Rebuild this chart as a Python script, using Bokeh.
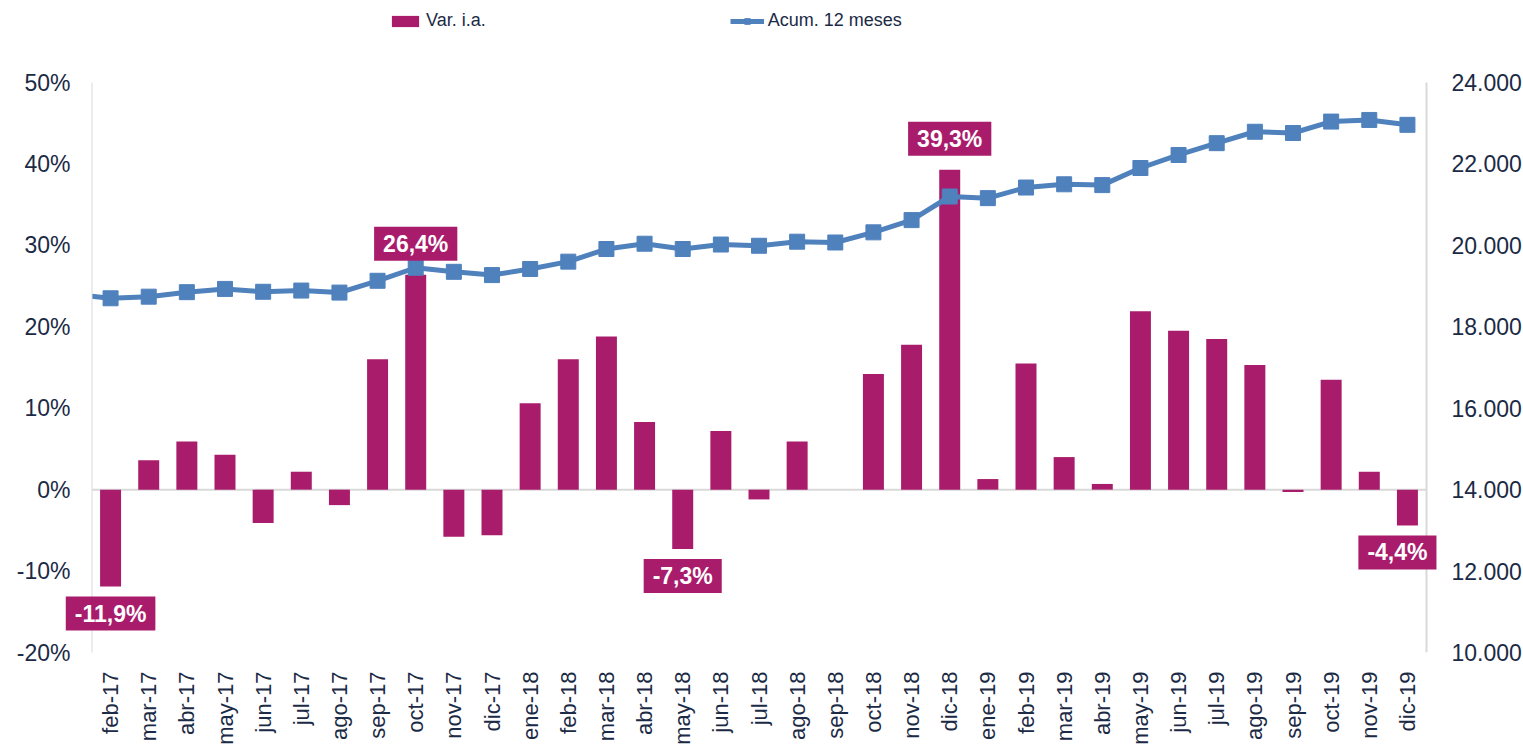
import numpy as np
from bokeh.plotting import figure
from bokeh.models import (Range1d, LinearAxis, FixedTicker, Label, BoxAnnotation,
                          Legend, LegendItem)
from bokeh.embed import file_html
from bokeh.resources import INLINE

# ---------------- data ----------------
months = ["feb-17", "mar-17", "abr-17", "may-17", "jun-17", "jul-17", "ago-17",
          "sep-17", "oct-17", "nov-17", "dic-17", "ene-18", "feb-18", "mar-18",
          "abr-18", "may-18", "jun-18", "jul-18", "ago-18", "sep-18", "oct-18",
          "nov-18", "dic-18", "ene-19", "feb-19", "mar-19", "abr-19", "may-19",
          "jun-19", "jul-19", "ago-19", "sep-19", "oct-19", "nov-19", "dic-19"]

var_ia = [-11.9, 3.6, 5.9, 4.3, -4.1, 2.2, -1.9, 16.0, 26.4, -5.8, -5.6,
          10.6, 16.0, 18.8, 8.3, -7.3, 7.2, -1.2, 5.9, 0.0, 14.2, 17.8,
          39.3, 1.3, 15.5, 4.0, 0.7, 21.9, 19.5, 18.5, 15.3, -0.3, 13.5,
          2.2, -4.4]

acum_prev_month = "ene-17"
acum_prev_value = 18800
acum_12m = [18700, 18740, 18850, 18930, 18860, 18890, 18840, 19130, 19450,
            19350, 19270, 19420, 19600, 19910, 20040, 19910, 20020, 19990,
            20090, 20070, 20320, 20620, 21200, 21160, 21420, 21500, 21480,
            21900, 22220, 22510, 22790, 22760, 23040, 23080, 22960]

left_ticks = [-20, -10, 0, 10, 20, 30, 40, 50]
right_ticks = [10000, 12000, 14000, 16000, 18000, 20000, 22000, 24000]
labeled_months = ["feb-17", "oct-17", "may-18", "dic-18", "dic-19"]

series_names = ["Var. i.a.", "Acum. 12 meses"]

# ---------------- style ----------------
BAR = "#A91C6C"
BLUE = "#4F81BD"
TXT = "#1B2A45"
GRID = "#D9D9D9"
FONT = "Liberation Sans"

# layout in pixels (frame is wider/taller than the axes so labels are not clipped)
FRAME_L, FRAME_R, FRAME_T = 60, 1441, 0
AX_L, AX_R, AX_T, AX_B = 91, 1426, 82, 652

n = len(months)
idx = list(range(n))
unit = (AX_R - AX_L) / n
x_lo, x_hi = idx[0] - 0.5, idx[-1] + 0.5
x_start = x_lo - (AX_L - FRAME_L) / unit
x_end = x_hi + (FRAME_R - AX_R) / unit

l_lo, l_hi = left_ticks[0], left_ticks[-1]
r_lo, r_hi = right_ticks[0], right_ticks[-1]
l_top = l_hi + (AX_T - FRAME_T) * (l_hi - l_lo) / (AX_B - AX_T)
r_top = r_hi + (AX_T - FRAME_T) * (r_hi - r_lo) / (AX_B - AX_T)

p = figure(frame_width=FRAME_R - FRAME_L, frame_height=AX_B - FRAME_T,
           x_range=Range1d(x_start, x_end),
           y_range=Range1d(l_lo, l_top),
           output_backend="svg", toolbar_location=None,
           min_border_left=FRAME_L, min_border_right=80,
           min_border_top=FRAME_T, min_border_bottom=86)
p.xgrid.visible = False
p.ygrid.visible = False
p.outline_line_color = None
p.background_fill_color = "white"
p.border_fill_color = "white"

p.extra_y_ranges = {"acum": Range1d(r_lo, r_top)}

# zero line
p.segment(x0=[x_lo], y0=[0], x1=[x_hi], y1=[0], line_color=GRID,
          line_width=2, level="underlay")

bars = p.vbar(x=idx, top=var_ia, bottom=0, width=0.55,
              fill_color=BAR, line_color=None)

line_x = [-1] + idx
line_y = [acum_prev_value] + acum_12m
line_r = p.line(x=line_x, y=line_y, y_range_name="acum",
                line_color=BLUE, line_width=5)
pts_r = p.scatter(x=idx, y=acum_12m, y_range_name="acum", marker="square",
                  size=15, fill_color=BLUE, line_color=BLUE)

# mask the part of the line left of the axis
p.add_layout(BoxAnnotation(right=x_lo, fill_color="white", fill_alpha=1,
                           line_color=None, level="glyph"))

# axis lines
p.segment(x0=[x_lo, x_hi], y0=[l_lo, l_lo], x1=[x_lo, x_hi], y1=[l_hi, l_hi],
          line_color=GRID, line_width=2)

# value labels
for m in labeled_months:
    i = months.index(m)
    v = var_ia[i]
    txt = f"{v:.1f}%".replace(".", ",")
    lab = Label(x=i, y=v, y_offset=31 if v > 0 else -27,
                x_offset=-10 if i == n - 1 else 0,
                text=txt, text_align="center", text_baseline="middle",
                text_color="white", text_font=FONT, text_font_style="bold",
                text_font_size="23px", background_fill_color=BAR,
                padding=dict(left=9, right=9, top=4, bottom=4))
    p.add_layout(lab)

# axes
xa = p.xaxis[0]
xa.ticker = FixedTicker(ticks=idx)
xa.major_label_overrides = {i: m for i, m in zip(idx, months)}
xa.major_label_orientation = np.pi / 2
xa.axis_line_color = None
xa.major_tick_line_color = None
xa.minor_tick_line_color = None
xa.major_label_standoff = 13
xa.major_label_text_font = FONT
xa.major_label_text_font_size = "22px"
xa.major_label_text_color = TXT

ya = p.yaxis[0]
ya.ticker = FixedTicker(ticks=left_ticks)
ya.major_label_overrides = {t: f"{t}%" for t in left_ticks}
ya.axis_line_color = None
ya.major_tick_line_color = None
ya.minor_tick_line_color = None
ya.major_label_standoff = -16
ya.major_label_text_font = FONT
ya.major_label_text_font_size = "23px"
ya.major_label_text_color = TXT

ra = LinearAxis(y_range_name="acum")
ra.ticker = FixedTicker(ticks=right_ticks)
ra.major_label_overrides = {t: f"{t:,}".replace(",", ".") for t in right_ticks}
ra.axis_line_color = None
ra.major_tick_line_color = None
ra.minor_tick_line_color = None
ra.major_label_standoff = 1445 - FRAME_R
ra.major_label_text_font = FONT
ra.major_label_text_font_size = "23px"
ra.major_label_text_color = TXT
p.add_layout(ra, "right")

legend = Legend(items=[LegendItem(label=series_names[0], renderers=[bars]),
                       LegendItem(label=series_names[1], renderers=[line_r, pts_r])],
                orientation="horizontal", location=(388 - FRAME_L, AX_B - 31),
                glyph_width=34, glyph_height=14, label_height=20,
                label_standoff=4, spacing=244, padding=0, margin=0,
                border_line_color=None, background_fill_alpha=0,
                label_text_font=FONT, label_text_font_size="18px",
                label_text_color=TXT)
p.add_layout(legend, "center")

open("out.html", "w").write(file_html(p, INLINE))
